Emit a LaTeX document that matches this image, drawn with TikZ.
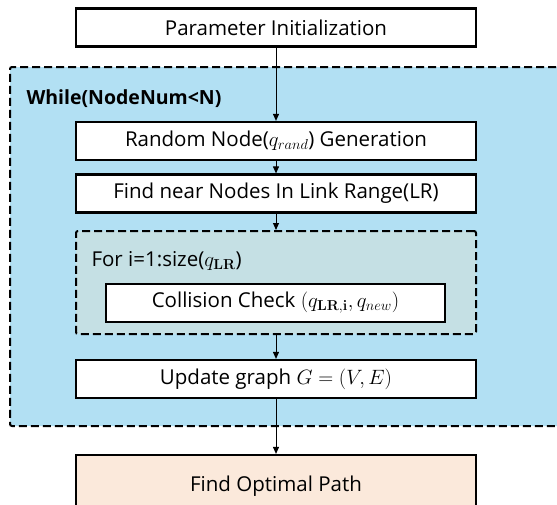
\documentclass[tikz,border=0pt]{standalone}
\usepackage{amsmath}
\usepackage[no-math]{fontspec}
\setmainfont{Open Sans}
\usepackage{xcolor}
\usetikzlibrary{arrows.meta}
\definecolor{loopblue}{RGB}{178,224,243}
\definecolor{innerteal}{RGB}{197,224,228}
\definecolor{peach}{RGB}{251,233,219}
\newcommand{\txt}{\fontsize{20.5}{24}\selectfont}

\begin{document}
\begin{tikzpicture}[x=1pt, y=-1pt,
    box/.style={draw, line width=2.2pt, fill=white, minimum width=400pt,
      minimum height=38pt, inner sep=0pt, font=\txt},
    frame/.style={draw, line width=2pt, dash pattern=on 8pt off 4pt,
      inner sep=0pt, rounded corners=2pt},
    flow/.style={-{Triangle[length=7pt, width=6pt]}, line width=1pt}]
    \useasboundingbox (0,0) rectangle (557,504);
    \clip (0,0) rectangle (557,504);
    % outer loop
    \node[frame, fill=loopblue, minimum width=560pt, minimum height=359pt]
      (whileloop) at (290,246.5) {};
    \node[anchor=west, font=\fontsize{19.5}{23}\selectfont\bfseries] (whilelabel)
      at (23,99) {While(NodeNum<N)};
    % boxes
    \node[box] (param) at (276,27.5) {Parameter Initialization};
    \node[box] (rand) at (276,141) {Random Node($q_{rand}$) Generation};
    \node[box] (near) at (276,193.5) {Find near Nodes In Link Range(LR)};
    % inner loop
    \node[frame, fill=innerteal, minimum width=400pt, minimum height=103pt]
      (forloop) at (276,282.5) {};
    \node[anchor=west, font=\txt] (forlabel) at (88,261) {For i=1:size($q_{\mathbf{LR}}$)};
    \node[box, minimum width=339pt] (coll) at (275.5,303)
      {Collision Check $(q_{\mathbf{LR,i}}, q_{new})$};
    \node[box] (update) at (276,379) {Update graph $G = (V,E)$};
    \node[box, fill=peach, minimum height=62pt] (optimal) at (276,486) {Find Optimal Path};
    % connectors
    \draw[flow] (param) -- (rand);
    \draw[flow] (rand) -- (near);
    \draw[flow] (near) -- (forloop);
    \draw[flow] (forloop) -- (update);
    \draw[flow] (update) -- (optimal.north);
\end{tikzpicture}
\end{document}
